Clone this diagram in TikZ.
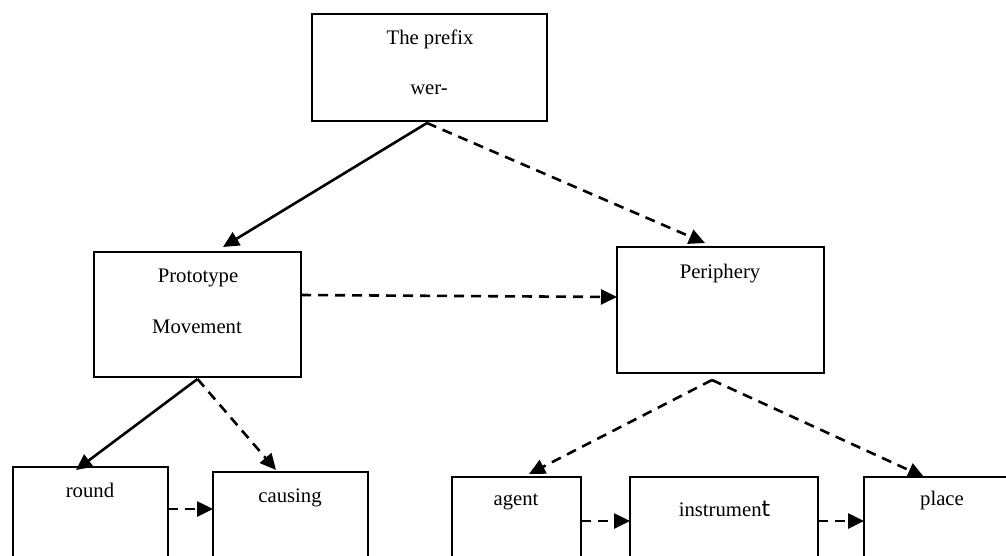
\documentclass[tikz,border=0pt]{standalone}
\usepackage{fontspec}
\setmainfont{Liberation Serif}
\newfontfamily\tfont{DejaVu Sans}
\usetikzlibrary{arrows.meta}
\begin{document}
\begin{tikzpicture}[x=1pt,y=-1pt,
  box/.style={draw, line width=2pt, rectangle, inner sep=0pt, outer sep=0pt},
  lbl/.style={anchor=base, inner sep=0pt, font=\fontsize{20.7}{24}\selectfont},
  link/.style={line width=2.6pt, -{Triangle[length=16pt,width=15pt]}},
  dlink/.style={link, dash pattern=on 10pt off 7pt}]
\useasboundingbox (0,0) rectangle (1006,555);
\clip (0,0) rectangle (1006,555);

% boxes
\node[box, minimum width=235pt, minimum height=107pt] (top) at (429.5,67.5) {};
\node[box, minimum width=207pt, minimum height=125pt] (proto) at (197.5,314.5) {};
\node[box, minimum width=207pt, minimum height=126pt] (peri) at (720.5,310) {};
\node[box, minimum width=155pt, minimum height=160pt] (round) at (90.5,547) {};
\node[box, minimum width=155pt, minimum height=160pt] (causing) at (290.5,552) {};
\node[box, minimum width=129pt, minimum height=160pt] (agent) at (516.5,557) {};
\node[box, minimum width=188pt, minimum height=160pt] (instr) at (724,557) {};
\node[box, minimum width=162pt, minimum height=160pt] (place) at (945,557) {};

% labels
\node[lbl] (t1) at (430,44) {The prefix};
\node[lbl] (t2) at (429,94) {wer-};
\node[lbl] (t3) at (198,282) {Prototype};
\node[lbl] (t4) at (197,333) {Movement};
\node[lbl] (t5) at (720,278) {Periphery};
\node[lbl] (t6) at (90,497) {round};
\node[lbl] (t7) at (290,502) {causing};
\node[lbl] (t8) at (516,505) {agent};
\node[lbl] (t9) at (724.5,516) {instrumen{\tfont\fontsize{22}{26}\selectfont t}};
\node[lbl] (t10) at (942,505) {place};

% connectors
\draw[link]  ([xshift=-2.5pt,yshift=-2pt]top.south) -- ([xshift=25.5pt,yshift=5pt]proto.north);
\draw[dlink] ([xshift=-2.5pt,yshift=-2pt]top.south) -- ([xshift=-15.5pt,yshift=4pt]peri.north);
\draw[dlink] ([yshift=19.5pt]proto.east) -- ([yshift=13pt]peri.west);
\draw[link]  ([yshift=-2pt]proto.south) -- ([xshift=-14.5pt,yshift=-3pt]round.north);
\draw[dlink] ([yshift=-2pt]proto.south) -- ([xshift=-14.5pt,yshift=2pt]causing.north);
\draw[dlink] ([yshift=38pt]round.east) -- ([yshift=43pt]causing.west);
\draw[dlink] ([xshift=-8.5pt,yshift=-7pt]peri.south) -- ([xshift=12.5pt,yshift=3pt]agent.north);
\draw[dlink] ([xshift=-8.5pt,yshift=-7pt]peri.south) -- ([xshift=-21pt]place.north);
\draw[dlink] ([yshift=36pt]agent.east) -- ([yshift=36pt]instr.west);
\draw[dlink] ([yshift=36pt]instr.east) -- ([yshift=36pt]place.west);
\end{tikzpicture}
\end{document}
